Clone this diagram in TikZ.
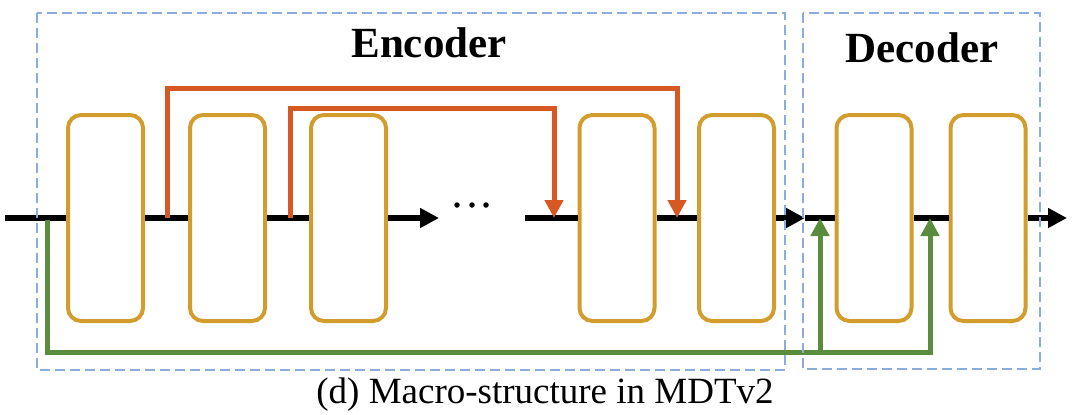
\documentclass[tikz,border=0pt]{standalone}
\usepackage{fontspec}
\setmainfont{Liberation Serif}
\usepackage{tikz}
\usepackage{xcolor}
\usetikzlibrary{arrows.meta}
\definecolor{block-gold}{RGB}{210,157,45}
\definecolor{skip-orange}{RGB}{214,88,34}
\definecolor{cross-green}{RGB}{90,140,62}
\definecolor{frame-blue}{RGB}{140,172,222}
\tikzset{
    layer-box/.style = {draw=block-gold, fill=white, line width=4pt, rectangle, rounded corners=13pt, minimum width=75pt, minimum height=206pt, inner sep=0pt},
    stage-frame/.style = {draw=frame-blue, line width=2.4pt, dash pattern=on 10pt off 5pt},
    stage-title/.style = {font=\fontsize{43}{48}\selectfont\bfseries, inner sep=0pt},
    flow-line/.style = {draw=black, line width=6pt},
    flow-arrow/.style = {flow-line, -{Triangle[length=19pt,width=19pt]}},
    skip-line/.style = {draw=skip-orange, line width=5pt, -{Triangle[length=18pt,width=18pt]}},
    cross-line/.style = {draw=cross-green, line width=5pt},
    dot/.style = {circle, fill=black, inner sep=0pt, minimum size=5.5pt},
}

\begin{document}
\begin{tikzpicture}[x=1pt,y=-1pt]
\useasboundingbox (0,0) rectangle (1080,415);

\foreach \name/\x in {e1/105.5, e2/227.5, e3/348.5, e4/617, e5/736.5, d1/874, d2/988}
    \node[layer-box] (\name) at (\x,218) {};

\coordinate (in) at (5,218);
\coordinate (enc-gap) at (439,218);
\coordinate (enc-resume) at (525,218);
\coordinate (enc-out) at (805,218);
\coordinate (out) at (1067,218);

\draw[flow-line] (in) -- (e1.west);
\draw[flow-line] (e1.east) -- (e2.west);
\draw[flow-line] (e2.east) -- (e3.west);
\draw[flow-arrow] (e3.east) -- (enc-gap);
\foreach \i/\x in {1/457, 2/472, 3/486}
    \node[dot] (dot\i) at (\x,205) {};
\draw[flow-line] (enc-resume) -- (e4.west);
\draw[flow-line] (e4.east) -- (e5.west);
\draw[flow-arrow] (e5.east) -- (enc-out);
\draw[flow-line] (enc-out) -- (d1.west);
\draw[flow-line] (d1.east) -- (d2.west);
\draw[flow-arrow] (d2.east) -- (out);

\coordinate (skip1-from) at (167,218);
\coordinate (skip1-to) at (677,218);
\coordinate (skip2-from) at (290,218);
\coordinate (skip2-to) at (554,218);
\draw[skip-line] (skip1-from) -- ++(0,-130) -| (skip1-to);
\draw[skip-line] (skip2-from) -- ++(0,-110) -| (skip2-to);

\coordinate (cross-from) at (47,220);
\coordinate (cross-low) at (47,352);
\coordinate (cross1-to) at (820,218);
\coordinate (cross2-to) at (930,218);
\draw[cross-line, -{Triangle[length=18pt,width=18pt]}] (cross-from) -- (cross-low) -| (cross2-to);
\draw[cross-line, -{Triangle[length=18pt,width=18pt]}] (cross-low -| cross1-to) -- (cross1-to);

\draw[stage-frame] (37,13) rectangle (785,370);
\draw[stage-frame] (803,13) rectangle (1040,369);
\node[stage-title] (enc-title) at (429,43) {Encoder};
\node[stage-title] (dec-title) at (922,48) {Decoder};

\node[font=\fontsize{37}{40}\selectfont, inner sep=0pt] (caption) at (545,395) {(d) Macro-structure in MDTv2};
\end{tikzpicture}
\end{document}
